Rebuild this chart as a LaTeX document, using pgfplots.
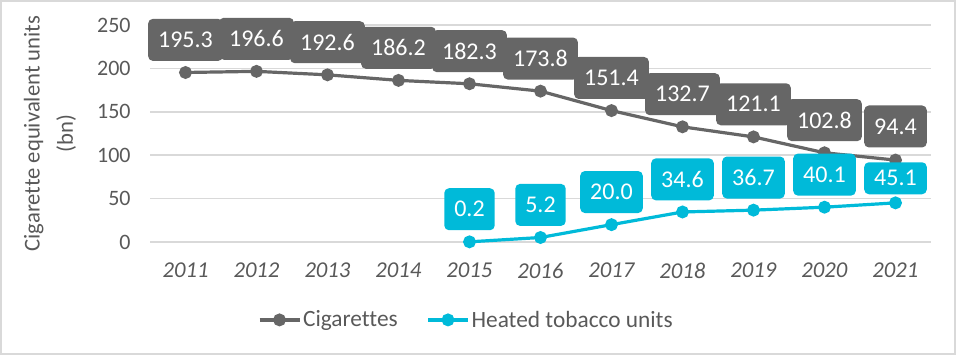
\documentclass[border=0pt]{standalone}
\usepackage{fontspec}
\setmainfont{Carlito}[Ligatures=CommonOff]
\usepackage{pgfplots}
\pgfplotsset{compat=1.18}
\definecolor{cig}{HTML}{666666}
\definecolor{htu}{HTML}{00BAD9}
\definecolor{tickc}{HTML}{595959}
\definecolor{gridc}{HTML}{D9D9D9}
\begin{document}
\begin{tikzpicture}
\useasboundingbox (0,0) rectangle (717pt,266.25pt);
\draw[gridc, line width=1.5pt] (0.75pt,0.75pt) rectangle (716.25pt,265.5pt);
\begin{axis}[
 at={(112.5pt,84.75pt)}, anchor=south west,
 width=585.75pt, height=162.75pt, scale only axis,
 xmin=2010.5, xmax=2021.5, ymin=0, ymax=250,
 xtick={2011,2012,...,2021}, ytick={0,50,...,250},
 axis line style={draw=none}, major tick length=0pt,
 ymajorgrids, grid style={gridc, line width=1.1pt},
 /pgf/number format/assume math mode=true,
 /pgf/number format/1000 sep={},
 tick label style={font=\fontsize{16.5}{16.5}\selectfont, text=tickc},
 xticklabel style={font=\fontsize{17}{17}\selectfont\itshape, yshift=-12pt},
 yticklabel style={xshift=-11pt},
 ylabel={Cigarette equivalent units\\(bn)},
 ylabel style={at={(axis description cs:-0.128,0.5)}, anchor=center, align=center, font=\fontsize{17}{25}\selectfont, text=tickc},
 clip=false,
 point meta=explicit symbolic,
 nodes near coords,
 visualization depends on={\thisrow{dy} \as \dy},
 visualization depends on={\thisrow{mh} \as \mh},
 legend style={at={(axis description cs:0.405,-0.359)}, anchor=center, draw=none, fill=none,
   font=\fontsize{17.5}{17.5}\selectfont, text=tickc, legend columns=2,
   nodes={inner xsep=1.5pt},
   /tikz/every even column/.append style={column sep=20pt}},
 legend image code/.code={\draw[mark repeat=2,mark phase=2] plot coordinates {(0pt,0pt) (15pt,0pt) (30pt,0pt)};},
]
\addplot[cig, line width=2.4pt, mark=*, mark size=3.6pt, mark options={solid},
  nodes near coords style={fill=cig, text=white, rounded corners=3.5pt, inner xsep=7.5pt, minimum height=\mh pt,
  font=\fontsize{18}{18}\selectfont, anchor=south, yshift=\dy pt}]
 table[x=x, y=y, meta=lab] {
x y lab dy mh
2011 195.3 195.3 7.5 31.5
2012 196.6 196.6 7.5 31.5
2013 192.6 192.6 7.5 31.5
2014 186.2 186.2 7.5 31.5
2015 182.3 182.3 7.5 31.5
2016 173.8 173.8 7.5 31.5
2017 151.4 151.4 7.5 31.5
2018 132.7 132.7 7.5 31.5
2019 121.1 121.1 7.5 31.5
2020 102.8 102.8 7.5 31.5
2021 94.4 94.4 8.25 31.5
};
\addlegendentry{Cigarettes}
\addplot[htu, line width=2.4pt, mark=*, mark size=3.6pt, mark options={solid},
  nodes near coords style={fill=htu, text=white, rounded corners=3.5pt, inner xsep=7.5pt, minimum height=\mh pt,
  font=\fontsize{18}{18}\selectfont, anchor=south, yshift=\dy pt}]
 table[x=x, y=y, meta=lab] {
x y lab dy mh
2015 0.2 0.2 7.5 31.5
2016 5.2 5.2 7.5 31.5
2017 20.0 20.0 7.5 31.5
2018 34.6 34.6 7.5 31.5
2019 36.7 36.7 7.5 31.5
2020 40.1 40.1 7.5 31.5
2021 45.1 45.1 5.25 24
};
\addlegendentry{Heated tobacco units}
\end{axis}
\end{tikzpicture}
\end{document}
